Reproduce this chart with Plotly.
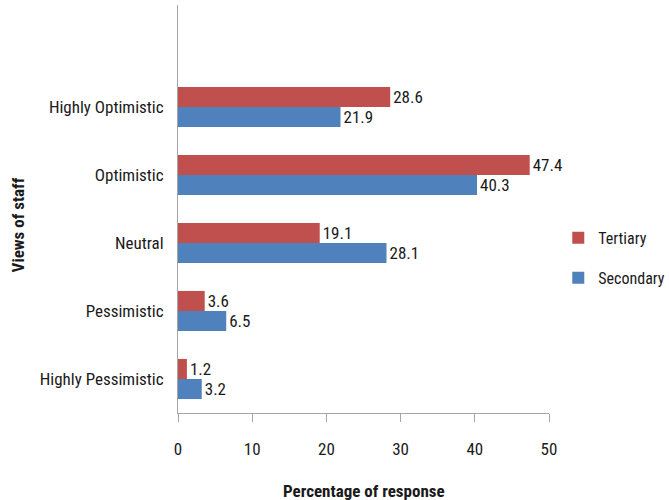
import plotly.graph_objects as go

categories = ["Highly Pessimistic", "Pessimistic", "Neutral", "Optimistic", "Highly Optimistic"]
secondary = [3.2, 6.5, 28.1, 40.3, 21.9]
tertiary = [1.2, 3.6, 19.1, 47.4, 28.6]
x_ticks = [0, 10, 20, 30, 40, 50]

FONT = "Liberation Sans Narrow, Arial Narrow, Roboto Condensed, Liberation Sans, sans-serif"
TEXT = "#1a1a1a"
SIZE = 17

fig = go.Figure()
fig.add_trace(go.Bar(
    y=categories, x=secondary, orientation="h", name="Secondary",
    legendgroup="secondary", legendrank=2,
    marker=dict(color="#4F81BD", line=dict(width=0)),
    text=[f"{v:.1f}" for v in secondary], textposition="outside",
    textfont=dict(family=FONT, size=SIZE, color=TEXT), cliponaxis=False,
))
fig.add_trace(go.Bar(
    y=categories, x=tertiary, orientation="h", name="Tertiary",
    legendgroup="tertiary", legendrank=1,
    marker=dict(color="#C0504D", line=dict(width=0)),
    text=[f"{v:.1f}" for v in tertiary], textposition="outside",
    textfont=dict(family=FONT, size=SIZE, color=TEXT), cliponaxis=False,
))

fig.update_layout(
    width=669, height=500,
    margin=dict(l=178, r=120, t=5, b=87, autoexpand=False),
    paper_bgcolor="white", plot_bgcolor="white",
    barmode="group", bargap=0.41, bargroupgap=0,
    font=dict(family=FONT, size=SIZE, color=TEXT),
    showlegend=True,
    legend=dict(
        x=1.025, y=0.38, xanchor="left", yanchor="middle",
        traceorder="grouped", font=dict(family=FONT, size=16, color=TEXT),
        itemwidth=30, tracegroupgap=16, bgcolor="rgba(0,0,0,0)",
    ),
    xaxis=dict(
        range=[0, 50], tickvals=x_ticks, ticktext=[str(t) for t in x_ticks],
        showgrid=False, zeroline=False,
        showline=True, linecolor="#a6a6a6", linewidth=1,
        ticks="outside", ticklen=8, tickcolor="#a6a6a6",
        ticklabelstandoff=13,
        tickfont=dict(family=FONT, size=SIZE, color=TEXT),
    ),
    yaxis=dict(
        type="category", range=[-0.5, 5.5],
        showgrid=False, zeroline=False,
        showline=True, linecolor="#a6a6a6", linewidth=1,
        ticks="", ticklabelstandoff=10,
        tickfont=dict(family=FONT, size=SIZE, color=TEXT),
    ),
    annotations=[
        dict(text="<b>Percentage of response</b>", xref="paper", yref="paper",
             x=0.5, y=-0.19, xanchor="center", yanchor="middle",
             showarrow=False, font=dict(family=FONT, size=SIZE, color=TEXT)),
        dict(text="<b>Views of staff</b>", xref="paper", yref="paper",
             x=-0.431, y=0.46, xanchor="center", yanchor="middle", textangle=-90,
             showarrow=False, font=dict(family=FONT, size=SIZE, color=TEXT)),
    ],
)

fig.write_html("out.html")
